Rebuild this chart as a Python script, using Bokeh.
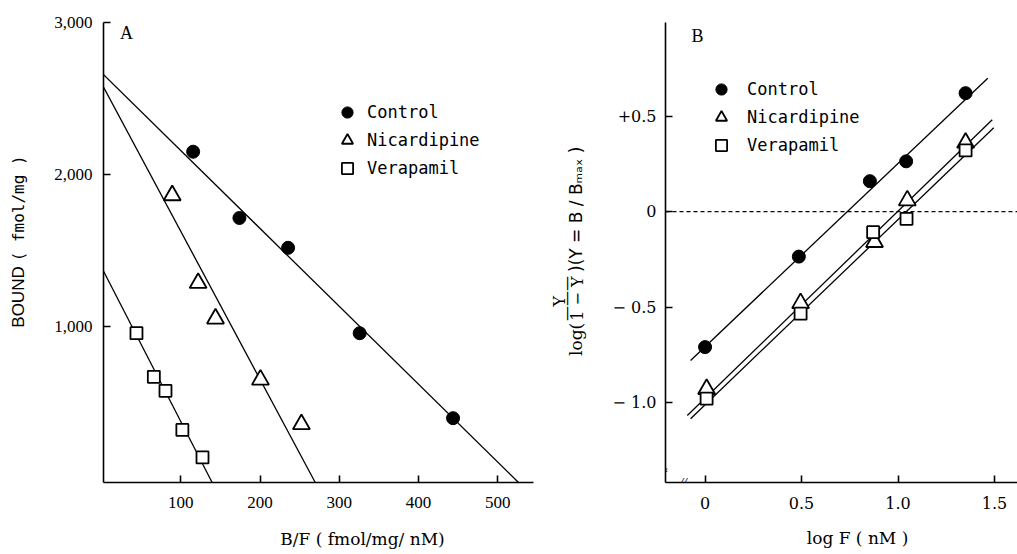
import numpy as np
from bokeh.plotting import figure
from bokeh.models import Range1d, Legend, LegendItem, Label, FixedTicker, NumeralTickFormatter, Span
from bokeh.layouts import row, column
from bokeh.embed import file_html
from bokeh.resources import INLINE
from bokeh.core.properties import value

# ---------------- data : panel A (Scatchard plot) ----------------
a_control_bf = [115.6, 174.0, 235.4, 325.7, 443.5]
a_control_bound = [2150, 1714, 1518, 956, 397]
a_nicard_bf = [89.2, 121.9, 143.8, 200.5, 252.2]
a_nicard_bound = [1863, 1286, 1052, 650, 357]
a_verap_bf = [44.1, 66.0, 80.7, 102.0, 127.4]
a_verap_bound = [956, 669, 577, 320, 139]
# regression lines: Bmax (y-intercept) and x-intercept
a_fit_bmax = [2670, 2600, 1390]
a_fit_xint = [521, 267, 137]
a_xticks = [100, 200, 300, 400, 500]
a_yticks = [1000, 2000, 3000]

# ---------------- data : panel B (Hill plot) ----------------
b_control_x = [0.0, 0.486, 0.854, 1.042, 1.35]
b_control_y = [-0.71, -0.236, 0.159, 0.263, 0.62]
b_nicard_x = [0.008, 0.495, 0.878, 1.048, 1.35]
b_nicard_y = [-0.93, -0.48, -0.16, 0.058, 0.36]
b_verap_x = [0.008, 0.495, 0.871, 1.044, 1.35]
b_verap_y = [-0.98, -0.535, -0.108, -0.038, 0.32]
b_fit_slope = [0.96, 0.98, 0.97]
b_fit_icpt = [-0.708, -0.978, -1.012]
b_fit_xstart = [-0.075, -0.092, -0.075]
b_fit_xend = [1.465, 1.488, 1.496]
b_xticks = [0, 0.5, 1.0, 1.5]
b_yticks = [0.5, 0, -0.5, -1.0]
b_ylabels = {0.5: "+0.5", 0: "0", -0.5: "\u2212 0.5", -1: "\u2212 1.0"}
b_xlabels = {0: "0", 0.5: "0.5", 1: "1.0", 1.5: "1.5"}

series_names = ["Control", "Nicardipine", "Verapamil"]


def style_axes(p, xstand, ystand, font, size):
    p.outline_line_color = None
    p.grid.visible = False
    for ax in p.axis:
        ax.axis_line_width = 1.6
        ax.axis_line_color = "black"
        ax.major_tick_in = 7
        ax.major_tick_out = 0
        ax.major_tick_line_width = 1.6
        ax.major_tick_line_color = "black"
        ax.minor_tick_line_color = None
        ax.major_label_text_font = font
        ax.major_label_text_font_size = size
        ax.major_label_text_color = "black"
    p.xaxis.major_label_standoff = xstand
    p.yaxis.major_label_standoff = ystand


def make_legend(renderers, loc, standoff):
    return Legend(items=[LegendItem(label=n, renderers=[r]) for n, r in zip(series_names, renderers)],
                  location=loc, border_line_color=None, background_fill_alpha=0,
                  padding=0, margin=0, spacing=0, glyph_width=32, glyph_height=28,
                  label_height=20, label_standoff=standoff,
                  label_text_font="DejaVu Sans Mono", label_text_font_size="17px",
                  label_text_color="black")


TOP_H = 520

# ---------------- panel A ----------------
A_YMIN = -26
pA = figure(width=510, height=TOP_H, x_range=Range1d(2.5, 545), y_range=Range1d(A_YMIN, 3000),
            output_backend="svg", toolbar_location=None,
            min_border_left=63, min_border_right=17, min_border_top=22, min_border_bottom=38)
style_axes(pA, 14, 11, "Liberation Serif", "17px")
pA.xaxis.ticker = FixedTicker(ticks=a_xticks)
pA.yaxis.ticker = FixedTicker(ticks=a_yticks)
pA.yaxis.formatter = NumeralTickFormatter(format="0,0")

for bmax, xint in zip(a_fit_bmax, a_fit_xint):
    slope = -bmax / xint
    x_end = (A_YMIN - bmax) / slope
    pA.line([0, x_end], [bmax, A_YMIN], line_color="black", line_width=1.3)

rA_c = pA.scatter(a_control_bf, a_control_bound, marker="circle", size=13,
                  fill_color="black", line_color="black")
rA_n = pA.scatter(a_nicard_bf, a_nicard_bound, marker="triangle", size=17,
                  fill_color="white", line_color="black", line_width=1.8)
rA_v = pA.scatter(a_verap_bf, a_verap_bound, marker="square", size=12,
                  fill_color="white", line_color="black", line_width=1.8)
pA.add_layout(make_legend([rA_c, rA_n, rA_v], (228, 300), 4))
pA.add_layout(Label(x=31.5, y=2930, text="A", text_font="Liberation Serif", text_font_size="18px",
                    text_align="center", text_baseline="middle", text_color="black"))

# ---------------- panel B ----------------
pB = figure(width=419, height=TOP_H, x_range=Range1d(-0.205, 1.619), y_range=Range1d(-1.419, 0.99),
            output_backend="svg", toolbar_location=None,
            min_border_left=67, min_border_right=0, min_border_top=22, min_border_bottom=38)
style_axes(pB, 14, 9, "DejaVu Serif", "16px")
pB.xaxis.ticker = FixedTicker(ticks=b_xticks)
pB.yaxis.ticker = FixedTicker(ticks=b_yticks)
pB.xaxis.major_label_overrides = b_xlabels
pB.yaxis.major_label_overrides = b_ylabels

pB.add_layout(Span(location=0, dimension="width", line_color="black", line_width=1.3,
                   line_dash="4 3"))

for s, c, x0, x1 in zip(b_fit_slope, b_fit_icpt, b_fit_xstart, b_fit_xend):
    pB.line([x0, x1], [c + s * x0, c + s * x1], line_color="black", line_width=1.3)

rB_c = pB.scatter(b_control_x, b_control_y, marker="circle", size=13,
                  fill_color="black", line_color="black")
rB_n = pB.scatter(b_nicard_x, b_nicard_y, marker="triangle", size=17,
                  fill_color="white", line_color="black", line_width=1.8)
rB_v = pB.scatter(b_verap_x, b_verap_y, marker="square", size=12,
                  fill_color="white", line_color="black", line_width=1.8)
pB.add_layout(make_legend([rB_c, rB_n, rB_v], (40, 323), 10))
pB.add_layout(Label(x=-0.039, y=0.92, text="B", text_font="Liberation Serif", text_font_size="18px",
                    text_align="center", text_baseline="middle", text_color="black"))
# axis-break marks
pB.add_layout(Label(x=-0.215, y=-1.356, text="\u2248", text_font="DejaVu Sans", text_font_size="12px",
                    text_align="center", text_baseline="middle", text_color="black"))
pB.add_layout(Label(x=-0.111, y=-1.414, text="//", text_font="DejaVu Serif", text_font_size="10px",
                    text_font_style="italic", text_align="center", text_baseline="middle",
                    text_color="black"))


# ---------------- label strips (pixel coordinates) ----------------
def strip(w, h):
    p = figure(width=w, height=h, x_range=Range1d(0, w), y_range=Range1d(0, h),
               output_backend="svg", toolbar_location=None, min_border=0,
               x_axis_location=None, y_axis_location=None)
    p.outline_line_color = None
    p.grid.visible = False
    return p


def txt(p, x, y, t, font, size, angle=0.0, align="left", style="normal"):
    p.text(x=[x], y=[y], text=[t], angle=angle, text_font=value(font), text_font_size=size,
           text_align=align, text_baseline="middle", text_color="black", text_font_style=style)


R = np.pi / 2
# y title of panel A
pLA = strip(40, TOP_H)
txt(pLA, 18, 175, "BOUND", "Liberation Sans", "17px", angle=R)
txt(pLA, 18, 250, "( fmol/mg )", "DejaVu Sans Mono", "16px", angle=R)

# y title of panel B : log( Y / (1 - Y) )( Y = B / Bmax )
pLB = strip(48, TOP_H)
txt(pLB, 25, 143, "log(", "DejaVu Serif", "17px", angle=R)
txt(pLB, 9, 205, "Y", "DejaVu Serif", "16px", angle=R, align="center")
txt(pLB, 16, 208, "\u2014\u2014\u2014", "DejaVu Sans", "15px", angle=R, align="center")
txt(pLB, 27, 208, "1 \u2212 Y", "DejaVu Serif", "16px", angle=R, align="center")
txt(pLB, 25, 238, ")(Y\u00a0=\u00a0B\u00a0/\u00a0B\u2098\u2090\u2093\u00a0)", "DejaVu Sans", "17px", angle=R)

# x titles
pS = strip(1017, 34)
txt(pS, 362, 16, "B/F ( fmol/mg/ nM)", "DejaVu Serif", "17px", align="center")
txt(pS, 857, 17, "log F ( nM )", "DejaVu Serif", "17px", align="center")

layout = column(row(pLA, pA, pLB, pB, spacing=0), pS, spacing=0)

with open("out.html", "w") as f:
    f.write(file_html(layout, INLINE))
